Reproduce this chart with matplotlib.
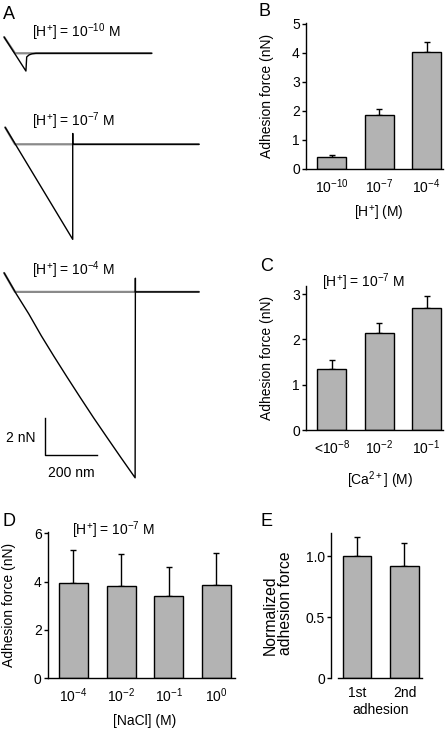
import numpy as np
import matplotlib
matplotlib.use('Agg')
import matplotlib.pyplot as plt

plt.rcParams['font.family'] = ['Liberation Sans', 'DejaVu Sans']
plt.rcParams['mathtext.fontset'] = 'custom'
plt.rcParams['mathtext.rm'] = 'Liberation Sans'
plt.rcParams['mathtext.it'] = 'Liberation Sans:italic'
plt.rcParams['mathtext.bf'] = 'Liberation Sans:bold'
plt.rcParams['font.size'] = 10

# ---- panel A: force curves (distance in nm from contact, force in nN from baseline)
t1_ret_x = [-42, 42, 45, 54, 65, 81, 526]
t1_ret_y = [0.88, -0.96, -0.20, -0.09, -0.03, 0, 0]
t1_app_x = [-42, 0, 526]
t1_app_y = [0.88, 0, 0]

t2_ret_x = [-38, 222, 222, 222, 708]
t2_ret_y = [0.92, -5.14, 0.58, 0, 0]
t2_app_x = [-38, 0, 708]
t2_app_y = [0.92, 0, 0]

t3_ret_x = [-42, 5, 53, 101, 150, 200, 251, 302, 355, 408, 462, 463, 463, 708]
t3_ret_y = [1.03, -0.11, -1.19, -2.37, -3.49, -4.60, -5.71, -6.80, -7.89, -8.97, -10.05, 0.74, 0, 0]
t3_app_x = [-42, 0, 708]
t3_app_y = [1.03, 0, 0]

trace_base = [-2.88, -7.80, -15.78]
trace_names = ['[H$^{+}$] = 10$^{-10}$ M', '[H$^{+}$] = 10$^{-7}$ M', '[H$^{+}$] = 10$^{-4}$ M']

# ---- panel B: adhesion vs [H+]
h_labels = ['10$^{-10}$', '10$^{-7}$', '10$^{-4}$']
h_force = [0.42, 1.86, 4.05]
h_err = [0.05, 0.20, 0.32]

# ---- panel C: adhesion vs [Ca2+]
ca_labels = ['<10$^{-8}$', '10$^{-2}$', '10$^{-1}$']
ca_force = [1.35, 2.15, 2.70]
ca_err = [0.20, 0.22, 0.27]

# ---- panel D: adhesion vs [NaCl]
na_labels = ['10$^{-4}$', '10$^{-2}$', '10$^{-1}$', '10$^{0}$']
na_force = [3.93, 3.81, 3.39, 3.84]
na_err = [1.37, 1.31, 1.22, 1.35]

# ---- panel E: normalized adhesion
e_labels = ['1st', '2nd']
e_force = [1.00, 0.92]
e_err = [0.16, 0.19]

W, H = 448, 731
fig = plt.figure(figsize=(W/100, H/100), dpi=100)

def box(l, t, r, b):
    return fig.add_axes([l/W, 1-b/H, (r-l)/W, (b-t)/H])

def txt(x, y, s, **kw):
    fig.text(x/W, 1-y/H, s, **kw)

#---------------- A ----------------#
axA = box(0, 0, 210, 490)
axA.set_xlim(-57.7, 750)
axA.set_ylim(-26.49, 0)
axA.axis('off')
curves = [(t1_app_x, t1_app_y, t1_ret_x, t1_ret_y),
          (t2_app_x, t2_app_y, t2_ret_x, t2_ret_y),
          (t3_app_x, t3_app_y, t3_ret_x, t3_ret_y)]
for (ax_, ay_, rx_, ry_), b in zip(curves, trace_base):
    axA.plot(ax_, np.array(ay_)+b, color='#8a8a8a', lw=1.6, solid_capstyle='butt')
    axA.plot(rx_, np.array(ry_)+b, color='black', lw=1.0)
# scale bar 200 nm x 2 nN
axA.plot([115, 115, 315], [-22.6, -24.6, -24.6], color='black', lw=1.0)

txt(3, 6, 'A', fontsize=13, ha='left', va='top')
for y, s in zip([32, 121, 270], trace_names):
    txt(32, y, s, ha='left', va='center')
txt(35, 438, '2 nN', ha='right', va='center')
txt(71, 473, '200 nm', ha='center', va='center')

#---------------- bar panels ----------------#
def bars(ax, vals, errs, names, xlim, ylim, yticks, yticklabels=None):
    x = np.arange(len(vals))
    ax.errorbar(x, vals, yerr=[np.zeros(len(vals)), errs], fmt='none', ecolor='black',
                elinewidth=1.0, capsize=2.5, capthick=1.0, zorder=1)
    ax.bar(x, vals, width=0.61, color='#b3b3b3', edgecolor='black', linewidth=1.0, zorder=2)
    ax.set_xlim(xlim)
    ax.set_ylim(ylim)
    ax.set_xticks(x)
    ax.set_xticklabels(names)
    ax.set_yticks(yticks)
    if yticklabels is not None:
        ax.set_yticklabels(yticklabels)
    ax.spines['top'].set_visible(False)
    ax.spines['right'].set_visible(False)
    ax.spines['left'].set_linewidth(1.0)
    ax.spines['bottom'].set_linewidth(1.0)
    ax.tick_params(axis='x', length=0, pad=6)
    ax.tick_params(axis='y', length=3, width=1.0, pad=1.5, direction='out')
    ax.patch.set_alpha(0)

axB = box(306, 22.5, 443, 169)
bars(axB, h_force, h_err, h_labels, (-0.547, 2.347), (0, 5.05), [0, 1, 2, 3, 4, 5])
txt(258, 3, 'B', fontsize=13, ha='left', va='top')
txt(267, 96, 'Adhesion force (nN)', rotation=90, ha='center', va='center')
txt(379, 213, '[H$^{+}$] (M)', ha='center', va='center')

axC = box(306, 286, 443, 430)
bars(axC, ca_force, ca_err, ca_labels, (-0.547, 2.347), (0, 3.18), [0, 1, 2, 3])
txt(260, 258, 'C', fontsize=13, ha='left', va='top')
txt(267, 358, 'Adhesion force (nN)', rotation=90, ha='center', va='center')
txt(380, 480, '[Ca$^{2+}$] (M)', ha='center', va='center')
txt(322, 282, trace_names[1], ha='left', va='center')

axD = box(48, 531.7, 235, 678.3)
bars(axD, na_force, na_err, na_labels, (-0.535, 3.39), (0, 6.06), [0, 2, 4, 6])
txt(2, 513, 'D', fontsize=13, ha='left', va='top')
txt(9, 605, 'Adhesion force (nN)', rotation=90, ha='center', va='center')
txt(145, 721, '[NaCl] (M)', ha='center', va='center')
txt(72, 530, trace_names[1], ha='left', va='center')

axE = box(338, 533.3, 422, 678)
bars(axE, e_force, e_err, e_labels, (-0.4, 1.37), (0, 1.19), [0, 0.5, 1.0], ['0', '0.5', '1.0'])
axE.spines['left'].set_position(('outward', 5))
txt(260, 513, 'E', fontsize=13, ha='left', va='top')
txt(278, 603, 'Normalized\nadhesion force', rotation=90, ha='center', va='center',
    multialignment='left', linespacing=1.05, fontsize=11.3)
txt(381, 710, 'adhesion', ha='center', va='center')

plt.savefig('out.png', dpi=100)
